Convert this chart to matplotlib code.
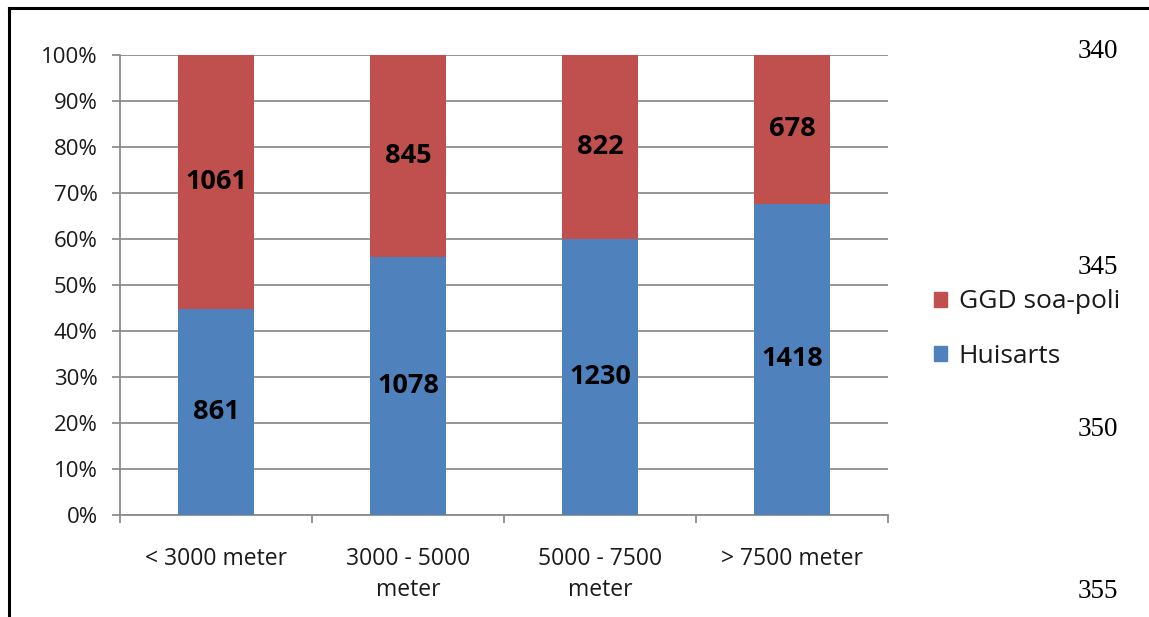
import matplotlib
matplotlib.use('Agg')
import matplotlib.pyplot as plt
import matplotlib.lines as mlines
import matplotlib.patches as mpatches
import numpy as np

categories = ['< 3000 meter', '3000 - 5000\nmeter', '5000 - 7500\nmeter', '> 7500 meter']
huisarts = [861, 1078, 1230, 1418]
ggd = [1061, 845, 822, 678]
line_numbers = ['340', '345', '350', '355']

c_blue = '#4F81BD'
c_red = '#C0504D'
c_grid = '#8C8C8C'
c_text = '#1A1A1A'

W, H = 1149, 617
fig = plt.figure(figsize=(W / 100, H / 100), dpi=100)

# plot area in pixel coordinates
x0, x1, y_top, y_bot = 120, 888, 55, 515
ax = fig.add_axes([x0 / W, 1 - y_bot / H, (x1 - x0) / W, (y_bot - y_top) / H])

hu = np.array(huisarts, dtype=float)
gg = np.array(ggd, dtype=float)
tot = hu + gg
hu_frac = hu / tot
gg_frac = gg / tot

x = np.arange(len(categories))
bw = 0.4
ax.bar(x, hu_frac, bw, color=c_blue, zorder=3, label='Huisarts')
ax.bar(x, gg_frac, bw, bottom=hu_frac, color=c_red, zorder=3, label='GGD soa-poli')

lab_font = dict(family='Open Sans', fontsize=19.5, fontweight='bold', color='black')
for i in range(len(x)):
    ax.text(x[i], hu_frac[i] / 2, str(huisarts[i]), ha='center', va='center', zorder=4, **lab_font)
    ax.text(x[i], hu_frac[i] + gg_frac[i] / 2, str(ggd[i]), ha='center', va='center', zorder=4, **lab_font)

ax.set_xlim(-0.5, len(categories) - 0.5)
ax.set_ylim(0, 1)
yt = np.arange(0, 1.01, 0.1)
ax.set_yticks(yt)
ax.set_yticklabels([f'{int(round(v * 100))}%' for v in yt], family='Open Sans', fontsize=16, color=c_text)
ax.yaxis.grid(True, color=c_grid, linewidth=1.3, zorder=0)
ax.tick_params(axis='y', length=6, width=1.3, color=c_grid, pad=10)

ax.set_xticks(x)
ax.set_xticklabels(categories, family='Open Sans', fontsize=16.5, color=c_text, linespacing=1.4)
ax.set_xticks(np.arange(-0.5, len(categories)), minor=True)
ax.tick_params(axis='x', which='major', length=0, pad=23)
ax.tick_params(axis='x', which='minor', length=6, width=1.3, color=c_grid)

for s in ['top', 'right']:
    ax.spines[s].set_visible(False)
for s in ['left', 'bottom']:
    ax.spines[s].set_color(c_grid)
    ax.spines[s].set_linewidth(1.3)

handles = [mpatches.Patch(color=c_red, label='GGD soa-poli'),
           mpatches.Patch(color=c_blue, label='Huisarts')]
fig.legend(handles=handles, loc='center left', bbox_to_anchor=(910 / W, 1 - 329 / H),
           frameon=False, prop={'family': 'Open Sans', 'size': 19},
           handlelength=0.5, handleheight=0.5, handletextpad=0.45, labelspacing=1.1,
           labelcolor=c_text)

# page frame and margin line numbers
fig.add_artist(mlines.Line2D([9 / W, 1], [1 - 8 / H, 1 - 8 / H], color='black', linewidth=2.2))
fig.add_artist(mlines.Line2D([9 / W, 9 / W], [0, 1 - 8 / H], color='black', linewidth=2.2))
for t, yp in zip(line_numbers, [52, 267, 429, 592]):
    fig.text(1098 / W, 1 - yp / H, t, ha='center', va='center', family='Liberation Serif', fontsize=19.5, color='black')

fig.savefig('out.png', dpi=100)
